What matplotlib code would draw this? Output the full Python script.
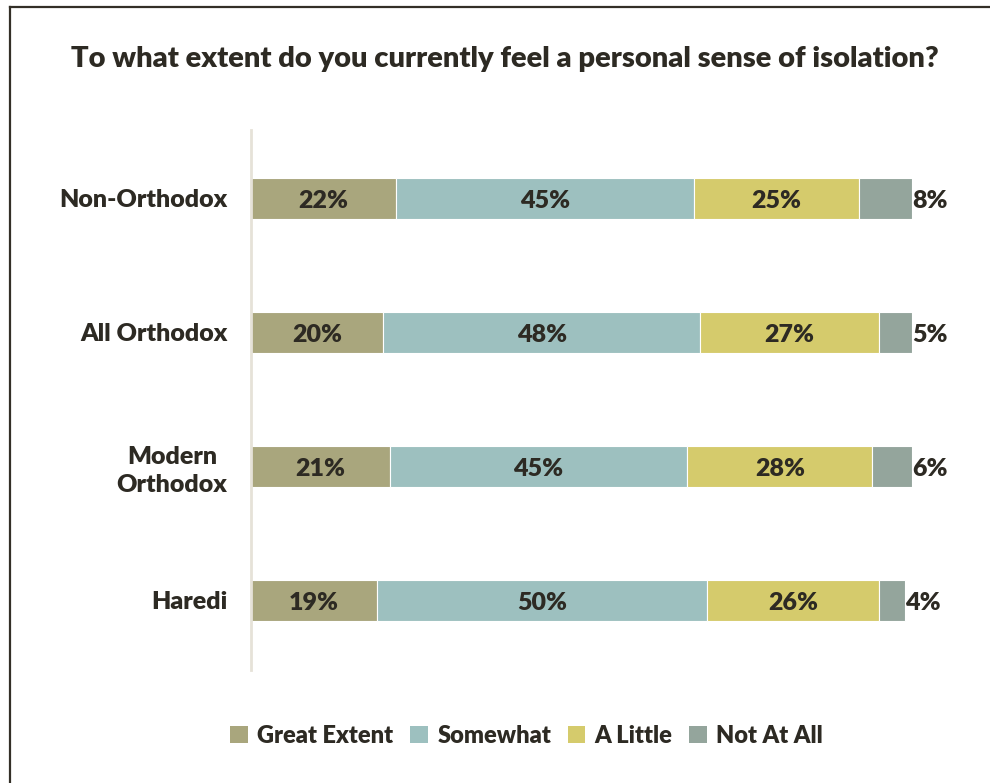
import matplotlib.pyplot as plt
from matplotlib.lines import Line2D
from matplotlib.patches import Patch

plt.rcParams["font.family"] = ["Lato", "DejaVu Sans"]
plt.rcParams["font.weight"] = "heavy"

groups = ["Non-Orthodox", "All Orthodox", "Modern\nOrthodox", "Haredi"]
responses = ["Great Extent", "Somewhat", "A Little", "Not At All"]
great_extent = [22, 20, 21, 19]
somewhat = [45, 48, 45, 50]
a_little = [25, 27, 28, 26]
not_at_all = [8, 5, 6, 4]

colors = ["#a9a67d", "#9dc0bf", "#d5cb6c", "#94a59c"]
text_color = "#2d2a23"
wt = "heavy"

fig = plt.figure(figsize=(9.9, 7.83), dpi=100)
ax = fig.add_axes([0.2535, 0.1443, 0.6677, 0.6897])

ypos = list(range(len(groups)))
left = [0] * len(groups)
for name, vals, col in zip(responses, [great_extent, somewhat, a_little, not_at_all], colors):
    ax.barh(ypos, vals, left=left, height=0.31, color=col,
            edgecolor="white", linewidth=0.8, label=name)
    for y, v, l in zip(ypos, vals, left):
        if v >= 10:
            ax.text(l + v / 2, y + 0.02, f"{v}%", ha="center", va="center",
                    fontsize=18, color=text_color, fontweight=wt)
        else:
            # small segments get their label just past the bar end
            ax.text(l + v, y + 0.02, f"{v}%", ha="left", va="center",
                    fontsize=18, color=text_color, fontweight=wt)
    left = [a + b for a, b in zip(left, vals)]

ax.set_xlim(0, 100)
ax.set_ylim(3.52, -0.51)
ax.set_yticks(ypos)
ax.set_yticklabels(groups, fontsize=18, color=text_color, fontweight=wt,
                   ha="right", multialignment="center", linespacing=1.3)
ax.tick_params(axis="y", length=0, pad=17)
ax.set_xticks([])
for side in ["top", "right", "bottom"]:
    ax.spines[side].set_visible(False)
ax.spines["left"].set_color("#e6e2d8")
ax.spines["left"].set_linewidth(2)

fig.text(0.51, 0.925, "To what extent do you currently feel a personal sense of isolation?",
         ha="center", va="center", fontsize=21, color=text_color, fontweight=wt)

handles = [Patch(facecolor=c, edgecolor="none") for c in colors]
fig.legend(handles, responses, loc="center", bbox_to_anchor=(0.532, 0.06), ncol=4,
           frameon=False, handlelength=0.75, handleheight=0.75,
           handletextpad=0.4, columnspacing=0.7, labelcolor=text_color,
           prop={"size": 17, "weight": wt})

# frame along top and left edges
fig.add_artist(Line2D([0.0096, 0.0096], [0, 0.991], transform=fig.transFigure,
                      color="#332f27", linewidth=1.6))
fig.add_artist(Line2D([0.0096, 1.0], [0.991, 0.991], transform=fig.transFigure,
                      color="#332f27", linewidth=1.6))

fig.savefig("out.png", dpi=100, facecolor="white")
